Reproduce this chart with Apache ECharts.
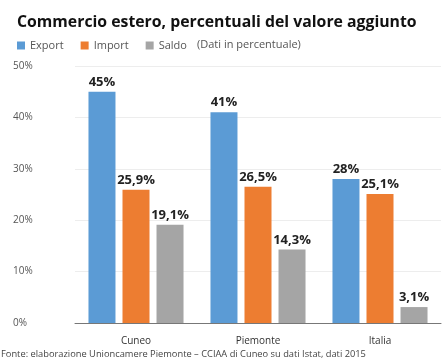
<!DOCTYPE html>
<html>
<head>
<meta charset="utf-8">
<script src="https://cdn.jsdelivr.net/npm/echarts@6/dist/echarts.min.js"></script>
<style>
html,body{margin:0;padding:0;background:#fff;}
#chart{width:442px;height:363px;}
</style>
</head>
<body>
<div id="chart"></div>
<script>
const categories = ['Cuneo', 'Piemonte', 'Italia'];
const exportValues = [45, 41, 28];
const importValues = [25.9, 26.5, 25.1];
const saldoValues = [19.1, 14.3, 3.1];
const yTicks = [0, 10, 20, 30, 40, 50];

const FONT = '"Open Sans", "Noto Sans", sans-serif';

function fmtPct(v) {
  return String(v).replace('.', ',') + '%';
}

const chart = echarts.init(document.getElementById('chart'), null, { renderer: 'canvas' });

function barSeries(name, data, color) {
  return {
    name: name,
    type: 'bar',
    data: data,
    barWidth: 27,
    barGap: '26%',
    itemStyle: { color: color },
    label: {
      show: true,
      position: 'top',
      distance: 3,
      formatter: p => fmtPct(p.value),
      fontFamily: FONT,
      fontWeight: 'bold',
      fontSize: 13,
      color: '#222'
    }
  };
}

chart.setOption({
  animation: false,
  title: {
    text: 'Commercio estero, percentuali del valore aggiunto',
    left: 12,
    top: 9,
    textStyle: { fontFamily: FONT, fontWeight: 'bold', fontSize: 15.8, color: '#111' }
  },
  legend: {
    left: 12,
    top: 35,
    itemWidth: 8,
    itemHeight: 8,
    itemGap: 17,
    icon: 'rect',
    textStyle: { fontFamily: FONT, fontSize: 11, color: '#555' },
    data: ['Export', 'Import', 'Saldo']
  },
  graphic: [
    {
      type: 'text',
      x: 197,
      y: 45,
      style: {
        text: '(Dati in percentuale)',
        font: '11px ' + FONT,
        fill: '#555',
        verticalAlign: 'middle'
      }
    },
    {
      type: 'text',
      x: 1,
      y: 354,
      style: {
        text: 'Fonte: elaborazione Unioncamere Piemonte \u2013 CCIAA di Cuneo su dati Istat, dati 2015',
        font: '9.3px ' + FONT,
        fill: '#444',
        verticalAlign: 'middle'
      }
    }
  ],
  grid: { left: 75, right: 1, top: 66, bottom: 40 },
  xAxis: {
    type: 'category',
    data: categories,
    axisLine: { lineStyle: { color: '#777', width: 1 } },
    axisTick: { show: false },
    axisLabel: { fontFamily: FONT, fontSize: 10, color: '#333', margin: 13 }
  },
  yAxis: {
    type: 'value',
    min: yTicks[0],
    max: yTicks[yTicks.length - 1],
    interval: 10,
    axisLine: { show: false },
    axisTick: { show: false },
    splitLine: { lineStyle: { color: '#ededed', width: 1 } },
    axisLabel: {
      fontFamily: FONT,
      fontSize: 10,
      color: '#555',
      align: 'left',
      margin: 62,
      padding: [6, 0, 0, 0],
      formatter: v => v + '%'
    }
  },
  series: [
    barSeries('Export', exportValues, '#5b9bd5'),
    barSeries('Import', importValues, '#ed7d31'),
    barSeries('Saldo', saldoValues, '#a5a5a5')
  ]
});
</script>
</body>
</html>
